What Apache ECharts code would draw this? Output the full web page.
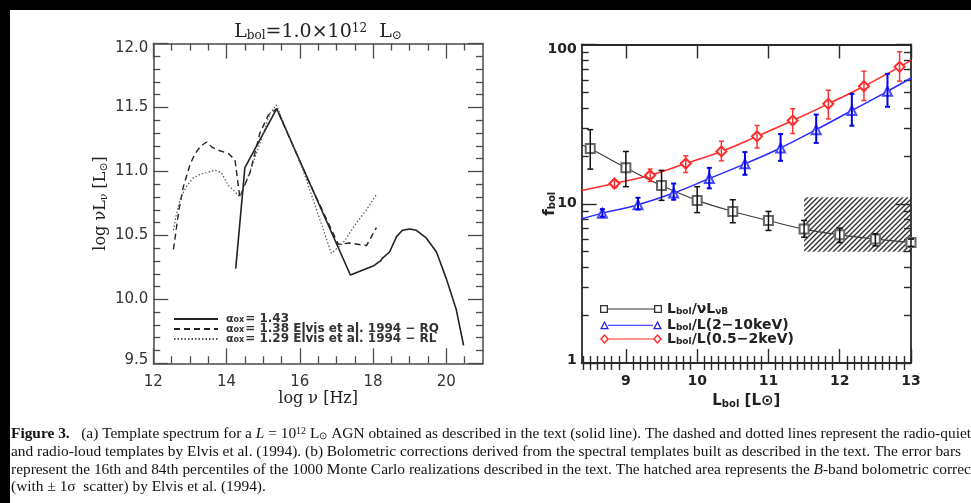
<!DOCTYPE html>
<html><head><meta charset="utf-8">
<script src="https://cdn.jsdelivr.net/npm/echarts@6/dist/echarts.min.js"></script>
<style>
html,body{margin:0;padding:0;background:#000;width:971px;height:503px;overflow:hidden}
#c{position:absolute;left:10px;top:10px;width:961px;height:493px;background:#fff}
</style></head><body><div id="c"></div>
<script>
// ---------------- Panel (a): template spectra (log nu, log nuL_nu) ----------------
const specSolid = [[14.25,10.24],[14.5,11.03],[15.37,11.49],[17.38,10.19],[18.0,10.26],[18.2,10.30],[18.25,10.32],[18.3,10.31],[18.45,10.37],[18.64,10.49],[18.8,10.54],[19.0,10.55],[19.18,10.54],[19.45,10.48],[19.73,10.37],[20.0,10.16],[20.27,9.92],[20.47,9.64]];
const specRQ = [[12.55,10.39],[12.7,10.7],[12.82,10.88],[13.0,11.05],[13.14,11.14],[13.3,11.2],[13.46,11.23],[13.6,11.19],[13.73,11.17],[14.05,11.14],[14.23,11.09],[14.36,10.80],[14.64,10.99],[14.91,11.30],[15.14,11.44],[15.37,11.49],[16.2,10.95],[17.05,10.43],[17.36,10.44],[17.82,10.42],[18.09,10.56]];
const specRL = [[12.55,10.54],[12.62,10.65],[12.73,10.78],[12.9,10.88],[13.09,10.95],[13.3,10.98],[13.46,10.99],[13.68,11.01],[13.86,10.99],[14.05,10.89],[14.2,10.85],[14.36,10.80],[14.64,11.0],[14.91,11.22],[15.18,11.45],[15.36,11.52],[16.1,11.0],[16.86,10.36],[17.18,10.44],[17.55,10.6],[17.82,10.70],[18.09,10.82]];
const leftXLabels = [12, 14, 16, 18, 20];
const leftYRange = [9.5, 12.0];

// ---------------- Panel (b): bolometric corrections ----------------
const bX  = [8.5, 9, 9.5, 10, 10.5, 11, 11.5, 12, 12.5, 13];
const bY  = [22.2, 16.8, 13.0, 10.5, 8.95, 7.85, 6.93, 6.38, 6.0, 5.71];
const bLo = [16.5, 12.8, 10.5, 8.8, 7.6, 6.8, 6.17, 5.71, 5.44, 5.4];
const bHi = [29.2, 21.3, 16.2, 12.8, 10.6, 8.95, 7.85, 7.03, 6.47, 6.0];
const bEdge = [[8.38, 23.5], [13, 5.71]];

const uX  = [8.67, 9.17, 9.67, 10.17, 10.67, 11.17, 11.67, 12.17, 12.67];
const uY  = [8.73, 9.86, 11.67, 14.4, 17.8, 22.4, 29.2, 38.5, 50.8];
const uLo = [8.3, 9.2, 10.6, 12.5, 15.2, 18.6, 24.1, 30.9, 40.6];
const uHi = [9.25, 10.9, 13.4, 16.8, 21.1, 27.4, 36.3, 49, 65.4];
const uEdge = [[8.38, 8.05], [13, 61.6]];

const rX  = [8.84, 9.34, 9.84, 10.34, 10.84, 11.34, 11.84, 12.34, 12.84];
const rY  = [13.4, 15.1, 17.9, 21.3, 26.5, 33.3, 42.4, 54.7, 72.4];
const rLo = [12.6, 13.8, 15.7, 18.6, 22.4, 27.6, 34.1, 44.5, 58.9];
const rHi = [14.0, 16.5, 20.0, 24.7, 31.0, 39.5, 51.6, 67.9, 90];
const rEdge = [[8.38, 12.1], [13, 79.6]];

const hatchBox = [[11.5, 13, 5.0, 11.0]];
const rightXLabels = [9, 10, 11, 12, 13];
const rightXRange = [8.38, 13];
const rightYRange = [1, 100];
const rightYMinor = [2,3,4,5,6,7,8,9,20,30,40,50,60,70,80,90];

// ---------------- helpers ----------------
function minorList(a, b, step, skipEvery) {
  const out = [];
  for (let v = a; v <= b + 1e-9; v += step) {
    const r = Math.round(v * 100) / 100;
    if (Math.abs(r / skipEvery - Math.round(r / skipEvery)) > 1e-6) out.push(r);
  }
  return out;
}
const leftXMinor = minorList(12.5, 20.5, 0.5, 2);
const rightXMinor = minorList(8.4, 12.9, 0.1, 1);

function lineData(xs, ys, edge) {
  const d = [{value: edge[0], symbol: 'none'}];
  xs.forEach((x, i) => d.push([x, ys[i]]));
  if (edge[1][0] !== xs[xs.length - 1]) d.push({value: edge[1], symbol: 'none'});
  return d;
}
function errData(xs, lo, hi) { return xs.map((x, i) => [x, lo[i], hi[i]]); }
function errRender(color, width, cap) {
  return function (params, api) {
    const x = api.value(0), lo = api.value(1), hi = api.value(2);
    const p1 = api.coord([x, lo]), p2 = api.coord([x, hi]);
    const st = {stroke: color, lineWidth: width};
    return {type: 'group', children: [
      {type: 'line', shape: {x1: p1[0], y1: p1[1], x2: p2[0], y2: p2[1]}, style: st},
      {type: 'line', shape: {x1: p1[0] - cap, y1: p1[1], x2: p1[0] + cap, y2: p1[1]}, style: st},
      {type: 'line', shape: {x1: p2[0] - cap, y1: p2[1], x2: p2[0] + cap, y2: p2[1]}, style: st}
    ]};
  };
}

// hatch pattern
const pc = document.createElement('canvas'); pc.width = 5; pc.height = 5;
const g = pc.getContext('2d'); g.strokeStyle = '#333'; g.lineWidth = 1.4;
g.beginPath(); g.moveTo(-1, 6); g.lineTo(6, -1); g.moveTo(-1, 1); g.lineTo(1, -1); g.moveTo(4, 6); g.lineTo(6, 4); g.stroke();

// ---------------- styles ----------------
const LC = '#4a4a4a';
const RC = '#2a2a2a';
const lTick = (len, vals) => {
  const t = {show: true, inside: true, length: len, lineStyle: {color: LC, width: 1.3}};
  if (vals) t.customValues = vals;
  return t;
};
const rTick = (len, vals) => {
  const t = {show: true, inside: true, length: len, lineStyle: {color: RC, width: 1.4}};
  if (vals) t.customValues = vals;
  return t;
};
const noLabel = {show: false};
const serifRich = {
  n: {fontFamily: 'DejaVu Serif', fontSize: 16, color: '#222'},
  s: {fontFamily: 'DejaVu Serif', fontSize: 11, color: '#222', verticalAlign: 'bottom', lineHeight: 11},
  p: {fontFamily: 'DejaVu Serif', fontSize: 11, color: '#222', verticalAlign: 'top', lineHeight: 11}
};
const boldRich = {
  n: {fontFamily: 'DejaVu Sans', fontWeight: 'bold', fontSize: 15, color: '#222'},
  s: {fontFamily: 'DejaVu Sans', fontWeight: 'bold', fontSize: 10, color: '#222', verticalAlign: 'bottom', lineHeight: 10}
};
// end labels of the y axes sit slightly inside the frame
const leftYLabelRich = {
  v: {fontFamily: 'DejaVu Sans', fontSize: 15, color: '#333'},
  hi: {fontFamily: 'DejaVu Sans', fontSize: 15, color: '#333', padding: [9, 0, 0, 0]},
  lo: {fontFamily: 'DejaVu Sans', fontSize: 15, color: '#333', padding: [0, 0, 6, 0]}
};
const rightYLabelRich = {
  v: {fontFamily: 'DejaVu Sans', fontWeight: 'bold', fontSize: 14, color: '#222'},
  hi: {fontFamily: 'DejaVu Sans', fontWeight: 'bold', fontSize: 14, color: '#222', padding: [10, 0, 0, 0]},
  lo: {fontFamily: 'DejaVu Sans', fontWeight: 'bold', fontSize: 14, color: '#222', padding: [0, 0, 6, 0]}
};

const lx = {gridIndex: 0, type: 'value', min: 12, max: 21, splitLine: {show: false}};
const ly = {gridIndex: 0, type: 'value', min: leftYRange[0], max: leftYRange[1], interval: 0.5, splitLine: {show: false}};
const rx = {gridIndex: 1, type: 'value', min: rightXRange[0], max: rightXRange[1], splitLine: {show: false}};

const xAxis = [
  Object.assign({}, lx, {position: 'bottom', axisLine: {show: true, onZero: false, lineStyle: {color: LC, width: 1.5}},
    axisTick: lTick(15, leftXLabels),
    axisLabel: {customValues: leftXLabels, margin: 11, fontFamily: 'DejaVu Sans', fontSize: 15, color: '#333'},
    name: '{n|log ν [Hz]}', nameLocation: 'middle', nameGap: 28, nameMoveOverlap: false, nameTextStyle: {rich: serifRich}}),
  Object.assign({}, lx, {position: 'bottom', axisLine: {show: false}, axisTick: lTick(7, leftXMinor), axisLabel: noLabel}),
  Object.assign({}, lx, {position: 'top', axisLine: {show: true, onZero: false, lineStyle: {color: LC, width: 1.5}}, axisTick: lTick(15, leftXLabels), axisLabel: noLabel}),
  Object.assign({}, lx, {position: 'top', axisLine: {show: false}, axisTick: lTick(7, leftXMinor), axisLabel: noLabel}),
  Object.assign({}, rx, {position: 'bottom', axisLine: {show: true, onZero: false, lineStyle: {color: RC, width: 1.8}},
    axisTick: rTick(14, rightXLabels),
    axisLabel: {customValues: rightXLabels, margin: 11, fontFamily: 'DejaVu Sans', fontWeight: 'bold', fontSize: 14, color: '#222'},
    name: '{n|L}{s|bol}{n| [L⊙]}', nameLocation: 'middle', nameGap: 31, nameMoveOverlap: false, nameTextStyle: {rich: boldRich}}),
  Object.assign({}, rx, {position: 'bottom', axisLine: {show: false}, axisTick: rTick(7, rightXMinor), axisLabel: noLabel}),
  Object.assign({}, rx, {position: 'top', axisLine: {show: true, onZero: false, lineStyle: {color: RC, width: 1.8}}, axisTick: rTick(14, rightXLabels), axisLabel: noLabel}),
  Object.assign({}, rx, {position: 'top', axisLine: {show: false}, axisTick: rTick(7, rightXMinor), axisLabel: noLabel})
];

const yAxis = [
  Object.assign({}, ly, {position: 'left', axisLine: {show: true, onZero: false, lineStyle: {color: LC, width: 1.5}},
    axisTick: lTick(15), minorTick: {show: true, splitNumber: 5, length: 7, lineStyle: {color: LC, width: 1.3}},
    axisLabel: {margin: 5, rich: leftYLabelRich,
      formatter: v => {
        const t = v.toFixed(1);
        return v >= leftYRange[1] ? '{hi|' + t + '}' : (v <= leftYRange[0] ? '{lo|' + t + '}' : '{v|' + t + '}');
      }},
    name: '{n|log νL}{s|ν}{n| [L}{s|⊙}{n|]}', nameLocation: 'middle', nameRotate: 90, nameGap: 44, nameMoveOverlap: false, nameTextStyle: {rich: serifRich}}),
  Object.assign({}, ly, {position: 'right', axisLine: {show: true, onZero: false, lineStyle: {color: LC, width: 1.5}},
    axisTick: lTick(15), minorTick: {show: true, splitNumber: 5, length: 7, lineStyle: {color: LC, width: 1.3}}, axisLabel: noLabel}),
  {gridIndex: 1, type: 'log', logBase: 10, min: rightYRange[0], max: rightYRange[1], position: 'left', splitLine: {show: false},
    axisLine: {show: true, onZero: false, lineStyle: {color: RC, width: 1.8}}, axisTick: rTick(15),
    axisLabel: {margin: 5, rich: rightYLabelRich,
      formatter: v => {
        const t = String(Math.round(v));
        return v >= rightYRange[1] ? '{hi|' + t + '}' : (v <= rightYRange[0] ? '{lo|' + t + '}' : '{v|' + t + '}');
      }},
    name: '{n|f}{s|bol}', nameLocation: 'middle', nameRotate: 90, nameGap: 24, nameMoveOverlap: false, nameTextStyle: {rich: boldRich}},
  {gridIndex: 1, type: 'log', logBase: 10, min: rightYRange[0], max: rightYRange[1], position: 'right', splitLine: {show: false},
    axisLine: {show: true, onZero: false, lineStyle: {color: RC, width: 1.8}}, axisTick: rTick(15), axisLabel: noLabel},
  {gridIndex: 1, type: 'value', min: 0, max: 2, position: 'left', splitLine: {show: false}, axisLine: {show: false},
    axisTick: rTick(7, rightYMinor.map(Math.log10)), axisLabel: noLabel},
  {gridIndex: 1, type: 'value', min: 0, max: 2, position: 'right', splitLine: {show: false}, axisLine: {show: false},
    axisTick: rTick(7, rightYMinor.map(Math.log10)), axisLabel: noLabel}
];

const N_SOLID = 'a143', N_RQ = 'a138', N_RL = 'a129';
const N_B = 'fB', N_X = 'fX', N_S = 'fS';
const leftLegendText = {
  a143: '{a|α}{s|ox}{t|= 1.43}',
  a138: '{a|α}{s|ox}{t|= 1.38 Elvis et al. 1994 − RQ}',
  a129: '{a|α}{s|ox}{t|= 1.29 Elvis et al. 1994 − RL}'
};
const rightLegendText = {
  fB: '{m|L}{s|bol}{m|/νL}{s|νB}',
  fX: '{m|L}{s|bol}{m|/L(2−10keV)}',
  fS: '{m|L}{s|bol}{m|/L(0.5−2keV)}'
};
const leftLegendRich = {
  a: {fontFamily: 'DejaVu Sans', fontWeight: 'bold', fontSize: 11, color: '#333', lineHeight: 10},
  s: {fontFamily: 'DejaVu Sans', fontWeight: 'bold', fontSize: 8, color: '#333', lineHeight: 8, verticalAlign: 'bottom'},
  t: {fontFamily: 'DejaVu Sans', fontWeight: 'bold', fontSize: 12, color: '#333', lineHeight: 10, padding: [0, 0, 0, 1]}
};
const rightLegendRich = {
  m: {fontFamily: 'DejaVu Sans', fontWeight: 'bold', fontSize: 14, color: '#222', lineHeight: 15},
  s: {fontFamily: 'DejaVu Sans', fontWeight: 'bold', fontSize: 9, color: '#222', lineHeight: 9, verticalAlign: 'bottom'}
};
const iconSq = 'path://M0,1h8v8h-8Z M1.3,2.3v5.4h5.4v-5.4Z M8,4.4h46v1.2h-46Z M54,1h8v8h-8Z M55.3,2.3v5.4h5.4v-5.4Z';
const iconTri = 'path://M0,9L4.5,0.5L9,9Z M2.2,7.8L6.8,7.8L4.5,3Z M8,4.4h45v1.2h-45Z M53,9L57.5,0.5L62,9Z M55.2,7.8L59.8,7.8L57.5,3Z';
const iconDia = 'path://M4.5,0L9,5L4.5,10L0,5Z M4.5,2L2,5L4.5,8L7,5Z M8,4.4h46v1.2h-46Z M57.5,0L62,5L57.5,10L53,5Z M57.5,2L55,5L57.5,8L60,5Z';

function leftLeg(name, top) {
  return {left: 163, top: top, padding: 0, itemWidth: 44, itemHeight: 10, selectedMode: false, orient: 'vertical',
    data: [{name: name, itemStyle: {opacity: 0}}],
    formatter: n => leftLegendText[n], textStyle: {rich: leftLegendRich, padding: [0, 0, 0, 3]}};
}
function rightLeg(name, icon, color, top) {
  return {left: 590, top: top, padding: 0, itemWidth: 62, itemHeight: 10, selectedMode: false, orient: 'vertical',
    data: [{name: name, icon: icon, itemStyle: {color: color, borderWidth: 0, opacity: 1}}],
    formatter: n => rightLegendText[n], textStyle: {rich: rightLegendRich}};
}

const CAP_FS = 15.4;
const capRich = {
  b: {fontFamily: 'Liberation Serif', fontWeight: 'bold', fontSize: CAP_FS, fill: '#111'},
  t: {fontFamily: 'Liberation Serif', fontSize: CAP_FS, fill: '#111'},
  i: {fontFamily: 'Liberation Serif', fontStyle: 'italic', fontSize: CAP_FS, fill: '#111'},
  p: {fontFamily: 'Liberation Serif', fontSize: 10, fill: '#111', verticalAlign: 'top', lineHeight: 10},
  s: {fontFamily: 'Liberation Serif', fontSize: 10, fill: '#111', verticalAlign: 'bottom', lineHeight: 10}
};
const capFont = CAP_FS + 'px "Liberation Serif"';

const option = {
  animation: false,
  backgroundColor: '#fff',
  grid: [
    {left: 143.3, top: 33.5, width: 329.7, height: 319.8, outerBoundsMode: 'none', containLabel: false},
    {left: 571.7, top: 34.5, width: 329.3, height: 318.5, outerBoundsMode: 'none', containLabel: false}
  ],
  xAxis: xAxis,
  yAxis: yAxis,
  legend: [
    leftLeg(N_SOLID, 303), leftLeg(N_RQ, 313), leftLeg(N_RL, 323),
    rightLeg(N_B, iconSq, '#333', 292), rightLeg(N_X, iconTri, '#2020ff', 308), rightLeg(N_S, iconDia, '#ff2a2a', 322)
  ],
  graphic: [
    {type: 'text', x: 308, y: 22, style: {text: '{n|L}{s|bol}{n|=1.0×10}{p|12}{n|  L}{s|⊙}', textAlign: 'center', verticalAlign: 'middle',
      rich: {
        n: {fontFamily: 'DejaVu Serif', fontSize: 19, fill: '#222'},
        s: {fontFamily: 'DejaVu Serif', fontSize: 12, fill: '#222', verticalAlign: 'bottom', lineHeight: 12},
        p: {fontFamily: 'DejaVu Serif', fontSize: 12, fill: '#222', verticalAlign: 'top', lineHeight: 12}
      }}},
    {type: 'text', x: 1, y: 424, style: {text: '{b|Figure 3.}{t|   (a) Template spectrum for a }{i|L}{t| = 10}{p|12}{t| L}{s|⊙}{t| AGN obtained as described in the text (solid line). The dashed and dotted lines represent the radio-quiet}', verticalAlign: 'middle', rich: capRich}},
    {type: 'text', x: 1, y: 442, style: {text: 'and radio-loud templates by Elvis et al. (1994). (b) Bolometric corrections derived from the spectral templates built as described in the text. The error bars', verticalAlign: 'middle', font: capFont, fill: '#111'}},
    {type: 'text', x: 1, y: 460, style: {text: '{t|represent the 16th and 84th percentiles of the 1000 Monte Carlo realizations described in the text. The hatched area represents the }{i|B}{t|-band bolometric corrections}', verticalAlign: 'middle', rich: capRich}},
    {type: 'text', x: 1, y: 477, style: {text: '(with ± 1σ  scatter) by Elvis et al. (1994).', verticalAlign: 'middle', font: capFont, fill: '#111'}}
  ],
  series: [
    {name: N_SOLID, type: 'line', xAxisIndex: 0, yAxisIndex: 0, data: specSolid, symbol: 'none', lineStyle: {color: '#222', width: 1.6}, itemStyle: {color: '#222'}},
    {name: N_RQ, type: 'line', xAxisIndex: 0, yAxisIndex: 0, data: specRQ, symbol: 'none', lineStyle: {color: '#222', width: 1.4, type: [6, 4]}, itemStyle: {color: '#222'}},
    {name: N_RL, type: 'line', xAxisIndex: 0, yAxisIndex: 0, data: specRL, symbol: 'none', lineStyle: {color: '#555', width: 1.2, type: [1.5, 2]}, itemStyle: {color: '#555'}},

    {type: 'custom', xAxisIndex: 4, yAxisIndex: 2, z: 1, data: hatchBox, encode: {x: [0, 1], y: [2, 3]},
      renderItem: (params, api) => {
        const a = api.coord([api.value(0), api.value(3)]);
        const b = api.coord([api.value(1), api.value(2)]);
        return {type: 'rect', shape: {x: a[0], y: a[1], width: b[0] - a[0], height: b[1] - a[1]}, style: {fill: {image: pc, repeat: 'repeat'}}};
      }},
    {name: N_B, type: 'line', xAxisIndex: 4, yAxisIndex: 2, z: 2, data: lineData(bX, bY, bEdge), smooth: 0.4,
      symbol: 'emptyRect', symbolSize: 9, showAllSymbol: true, lineStyle: {color: '#3a3a3a', width: 1.1}, itemStyle: {color: '#666', borderWidth: 1.2}},
    {name: N_X, type: 'line', xAxisIndex: 4, yAxisIndex: 2, z: 2, data: lineData(uX, uY, uEdge), smooth: 0.4,
      symbol: 'emptyTriangle', symbolSize: 9, showAllSymbol: true, lineStyle: {color: '#2a2aff', width: 1.5}, itemStyle: {color: '#4a4aff', borderWidth: 1.2}},
    {name: N_S, type: 'line', xAxisIndex: 4, yAxisIndex: 2, z: 2, data: lineData(rX, rY, rEdge), smooth: 0.4,
      symbol: 'emptyDiamond', symbolSize: 10, showAllSymbol: true, lineStyle: {color: '#ff2a2a', width: 1.5}, itemStyle: {color: '#ff2a2a', borderWidth: 1.5}},
    {type: 'custom', xAxisIndex: 4, yAxisIndex: 2, z: 3, data: errData(bX, bLo, bHi), encode: {x: 0, y: [1, 2]}, renderItem: errRender('#111', 1.5, 3)},
    {type: 'custom', xAxisIndex: 4, yAxisIndex: 2, z: 3, data: errData(uX, uLo, uHi), encode: {x: 0, y: [1, 2]}, renderItem: errRender('#0000ee', 2, 2.5)},
    {type: 'custom', xAxisIndex: 4, yAxisIndex: 2, z: 3, data: errData(rX, rLo, rHi), encode: {x: 0, y: [1, 2]}, renderItem: errRender('#ff3030', 1.5, 2.5)}
  ]
};

const chart = echarts.init(document.getElementById('c'), null, {renderer: 'canvas'});
chart.setOption(option);
</script></body></html>
